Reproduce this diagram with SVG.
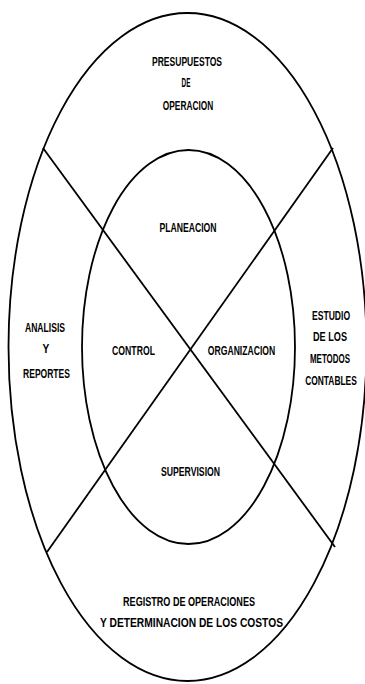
<svg xmlns="http://www.w3.org/2000/svg" width="365" height="684" viewBox="0 0 365 684">
<style>
.sh{fill:none;stroke:#000;stroke-width:1.8}
text{font-family:"Liberation Sans",Arial,sans-serif;font-weight:bold;font-size:12.5px;fill:#000;text-anchor:middle}
</style>
<rect width="365" height="684" fill="#fff"/>
<g id="outer"><ellipse class="sh" cx="187.5" cy="347" rx="179" ry="334"/></g>
<g id="inner"><ellipse class="sh" cx="188.5" cy="347" rx="106.5" ry="197"/></g>
<g id="connectors">
<line class="sh" x1="43" y1="148" x2="335" y2="547"/>
<line class="sh" x1="333" y1="148" x2="47" y2="552"/>
</g>
<g id="presupuestos">
<text transform="translate(187,66) scale(0.68,1)" textLength="103" lengthAdjust="spacingAndGlyphs">PRESUPUESTOS</text>
<text transform="translate(186,87) scale(0.68,1)" textLength="13" lengthAdjust="spacingAndGlyphs">DE</text>
<text transform="translate(188,110) scale(0.68,1)" textLength="74" lengthAdjust="spacingAndGlyphs">OPERACION</text>
</g>
<g id="planeacion"><text transform="translate(188,232) scale(0.68,1)" textLength="84" lengthAdjust="spacingAndGlyphs">PLANEACION</text></g>
<g id="analisis">
<text transform="translate(45,332) scale(0.68,1)" textLength="59" lengthAdjust="spacingAndGlyphs">ANALISIS</text>
<text transform="translate(46,353) scale(0.68,1)" textLength="10" lengthAdjust="spacingAndGlyphs">Y</text>
<text transform="translate(46.5,378) scale(0.68,1)" textLength="69" lengthAdjust="spacingAndGlyphs">REPORTES</text>
</g>
<g id="control"><text transform="translate(133.5,355) scale(0.68,1)" textLength="63" lengthAdjust="spacingAndGlyphs">CONTROL</text></g>
<g id="organizacion"><text transform="translate(241.5,355) scale(0.68,1)" textLength="99" lengthAdjust="spacingAndGlyphs">ORGANIZACION</text></g>
<g id="estudio">
<text transform="translate(331,320) scale(0.68,1)" textLength="56" lengthAdjust="spacingAndGlyphs">ESTUDIO</text>
<text transform="translate(330,341) scale(0.68,1)" textLength="50" lengthAdjust="spacingAndGlyphs">DE LOS</text>
<text transform="translate(330,363) scale(0.68,1)" textLength="59" lengthAdjust="spacingAndGlyphs">METODOS</text>
<text transform="translate(331,385) scale(0.68,1)" textLength="76" lengthAdjust="spacingAndGlyphs">CONTABLES</text>
</g>
<g id="supervision"><text transform="translate(190.5,476) scale(0.68,1)" textLength="87" lengthAdjust="spacingAndGlyphs">SUPERVISION</text></g>
<g id="registro">
<text transform="translate(189,606) scale(0.68,1)" textLength="194" lengthAdjust="spacingAndGlyphs">REGISTRO  DE  OPERACIONES</text>
<text transform="translate(191.5,627) scale(0.68,1)" textLength="269" lengthAdjust="spacingAndGlyphs">Y  DETERMINACION  DE  LOS  COSTOS</text>
</g>
</svg>
